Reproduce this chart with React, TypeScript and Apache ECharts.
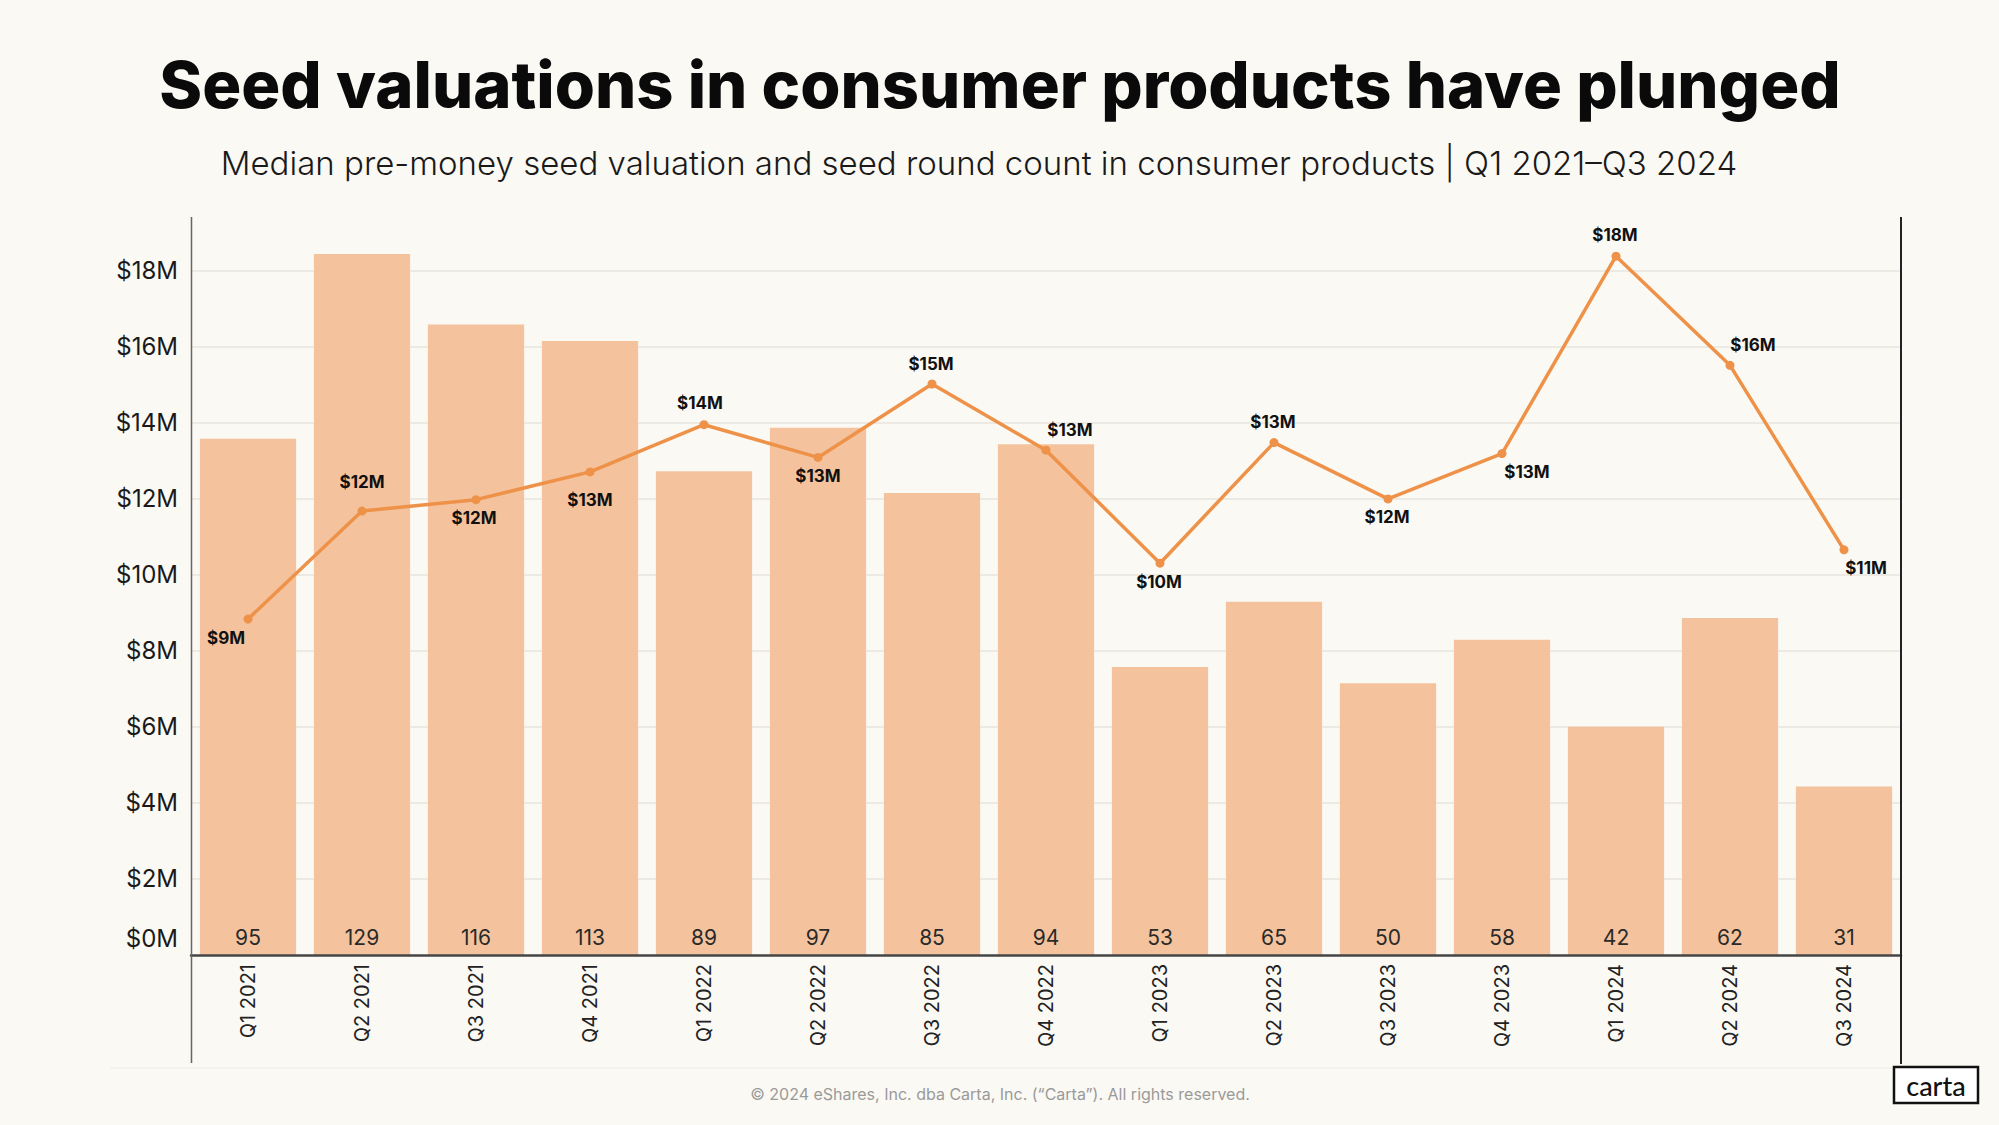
import React, { useEffect, useRef } from "react";
import * as echarts from "echarts";

const quarters = [
  "Q1 2021", "Q2 2021", "Q3 2021", "Q4 2021",
  "Q1 2022", "Q2 2022", "Q3 2022", "Q4 2022",
  "Q1 2023", "Q2 2023", "Q3 2023", "Q4 2023",
  "Q1 2024", "Q2 2024", "Q3 2024",
];

// Seed round count (bars)
const roundCounts = [95, 129, 116, 113, 89, 97, 85, 94, 53, 65, 50, 58, 42, 62, 31];

// Median pre-money seed valuation, $M (line)
const valuations = [8.83, 11.67, 11.97, 12.7, 13.94, 13.08, 15.01, 13.27, 10.3, 13.47, 11.99, 13.18, 18.37, 15.5, 10.65];

// label placement for each valuation point [dx, dy]
const labelOffsets: [number, number][] = [
  [-22, 19], [0, -29], [-2, 18], [0, 28], [-4, -22],
  [0, 19], [-1, -20], [24, -20], [-1, 19], [-1, -21],
  [-1, 18], [25, 18], [-1, -21], [23, -20], [22, 18],
];

const yTicksStep = 2;

const FONT = "Inter, 'Noto Sans', sans-serif";

export default function App() {
  const ref = useRef<HTMLDivElement>(null);

  useEffect(() => {
    document.body.style.margin = "0";
    document.body.style.overflow = "hidden";
    const chart = echarts.init(ref.current!, undefined, { renderer: "svg" });

    const option = {
      animation: false,
      backgroundColor: "#FBF9F4",
      textStyle: { fontFamily: FONT },
      grid: { left: 191, right: 98, top: 217, bottom: 170, containLabel: false },
      xAxis: {
        type: "category",
        data: quarters,
        axisLine: { show: true, lineStyle: { color: "#454545", width: 2.5 } },
        axisTick: { show: false },
        axisLabel: {
          rotate: 90,
          margin: 9,
          fontSize: 20,
          color: "#222",
          fontFamily: FONT,
        },
        z: 5,
      },
      yAxis: [
        {
          type: "value",
          min: 0,
          max: 19.4,
          interval: yTicksStep,
          axisLine: { show: false },
          axisTick: { show: false },
          splitLine: {
            show: true,
            showMaxLine: false,
            showMinLine: false,
            lineStyle: { color: "#E7E4DE", width: 1.5 },
          },
          axisLabel: {
            showMaxLabel: false,
            margin: 13,
            fontSize: 24,
            color: "#1a1a1a",
            fontFamily: FONT,
            formatter: (v: number) => (v === 0 ? "{z|$0M}" : `$${v}M`),
            rich: {
              z: { fontSize: 24, color: "#1a1a1a", fontFamily: FONT, padding: [0, 0, 34, 0] },
            },
          },
        },
        {
          type: "value",
          min: 0,
          max: 135.8,
          show: false,
          splitLine: { show: false },
        },
      ],
      series: [
        {
          type: "bar",
          yAxisIndex: 1,
          data: roundCounts,
          barWidth: "84.4%",
          itemStyle: { color: "#F4C39D" },
          label: {
            show: true,
            position: "insideBottom",
            distance: 7,
            fontSize: 21,
            color: "#2a2a2a",
            fontFamily: FONT,
          },
          z: 1,
        },
        {
          type: "line",
          yAxisIndex: 0,
          data: valuations.map((v, i) => ({
            value: v,
            label: { offset: labelOffsets[i] },
          })),
          lineStyle: { color: "#EE9249", width: 3.5 },
          itemStyle: { color: "#EE9249" },
          symbol: "circle",
          symbolSize: 9,
          label: {
            show: true,
            position: "inside",
            fontSize: 17,
            fontWeight: "bold",
            color: "#111",
            fontFamily: FONT,
            formatter: (p: any) => `$${Math.round(p.value)}M`,
          },
          z: 3,
        },
      ],
      graphic: [
        {
          type: "text",
          x: 1000,
          y: 84,
          style: {
            text: "Seed valuations in consumer products have plunged",
            fontSize: 65,
            fontWeight: 800,
            fill: "#0a0a0a",
            fontFamily: FONT,
            align: "center",
            verticalAlign: "middle",
          },
        },
        {
          type: "text",
          x: 979,
          y: 163,
          style: {
            text: "Median pre-money seed valuation and seed round count in consumer products | Q1 2021–Q3 2024",
            fontSize: 33,
            fontWeight: 300,
            fill: "#1a1a1a",
            fontFamily: FONT,
            align: "center",
            verticalAlign: "middle",
          },
        },
        {
          type: "line",
          shape: { x1: 191.5, y1: 217, x2: 191.5, y2: 1063 },
          style: { stroke: "#666", lineWidth: 1.5 },
          z: 10,
        },
        {
          type: "line",
          shape: { x1: 1901, y1: 217, x2: 1901, y2: 1064 },
          style: { stroke: "#222", lineWidth: 2 },
          z: 10,
        },
        {
          type: "line",
          shape: { x1: 110, y1: 1068, x2: 1900, y2: 1068 },
          style: { stroke: "#F3F1EC", lineWidth: 1.5 },
        },
        {
          type: "text",
          x: 1000,
          y: 1094,
          style: {
            text: "© 2024 eShares, Inc. dba Carta, Inc. (“Carta”). All rights reserved.",
            fontSize: 16,
            fill: "#9a9a9a",
            fontFamily: FONT,
            align: "center",
            verticalAlign: "middle",
          },
        },
        {
          type: "rect",
          shape: { x: 1894, y: 1067, width: 84, height: 36 },
          style: { fill: "#FFFFFF", stroke: "#111", lineWidth: 2.5 },
          z: 10,
        },
        {
          type: "text",
          x: 1936,
          y: 1085,
          style: {
            text: "carta",
            fontSize: 27,
            fontWeight: 500,
            fill: "#111",
            fontFamily: "Lato, Inter, sans-serif",
            align: "center",
            verticalAlign: "middle",
          },
          z: 11,
        },
      ],
    };

    chart.setOption(option as any);
    return () => chart.dispose();
  }, []);

  return <div ref={ref} style={{ width: 1999, height: 1125 }} />;
}
